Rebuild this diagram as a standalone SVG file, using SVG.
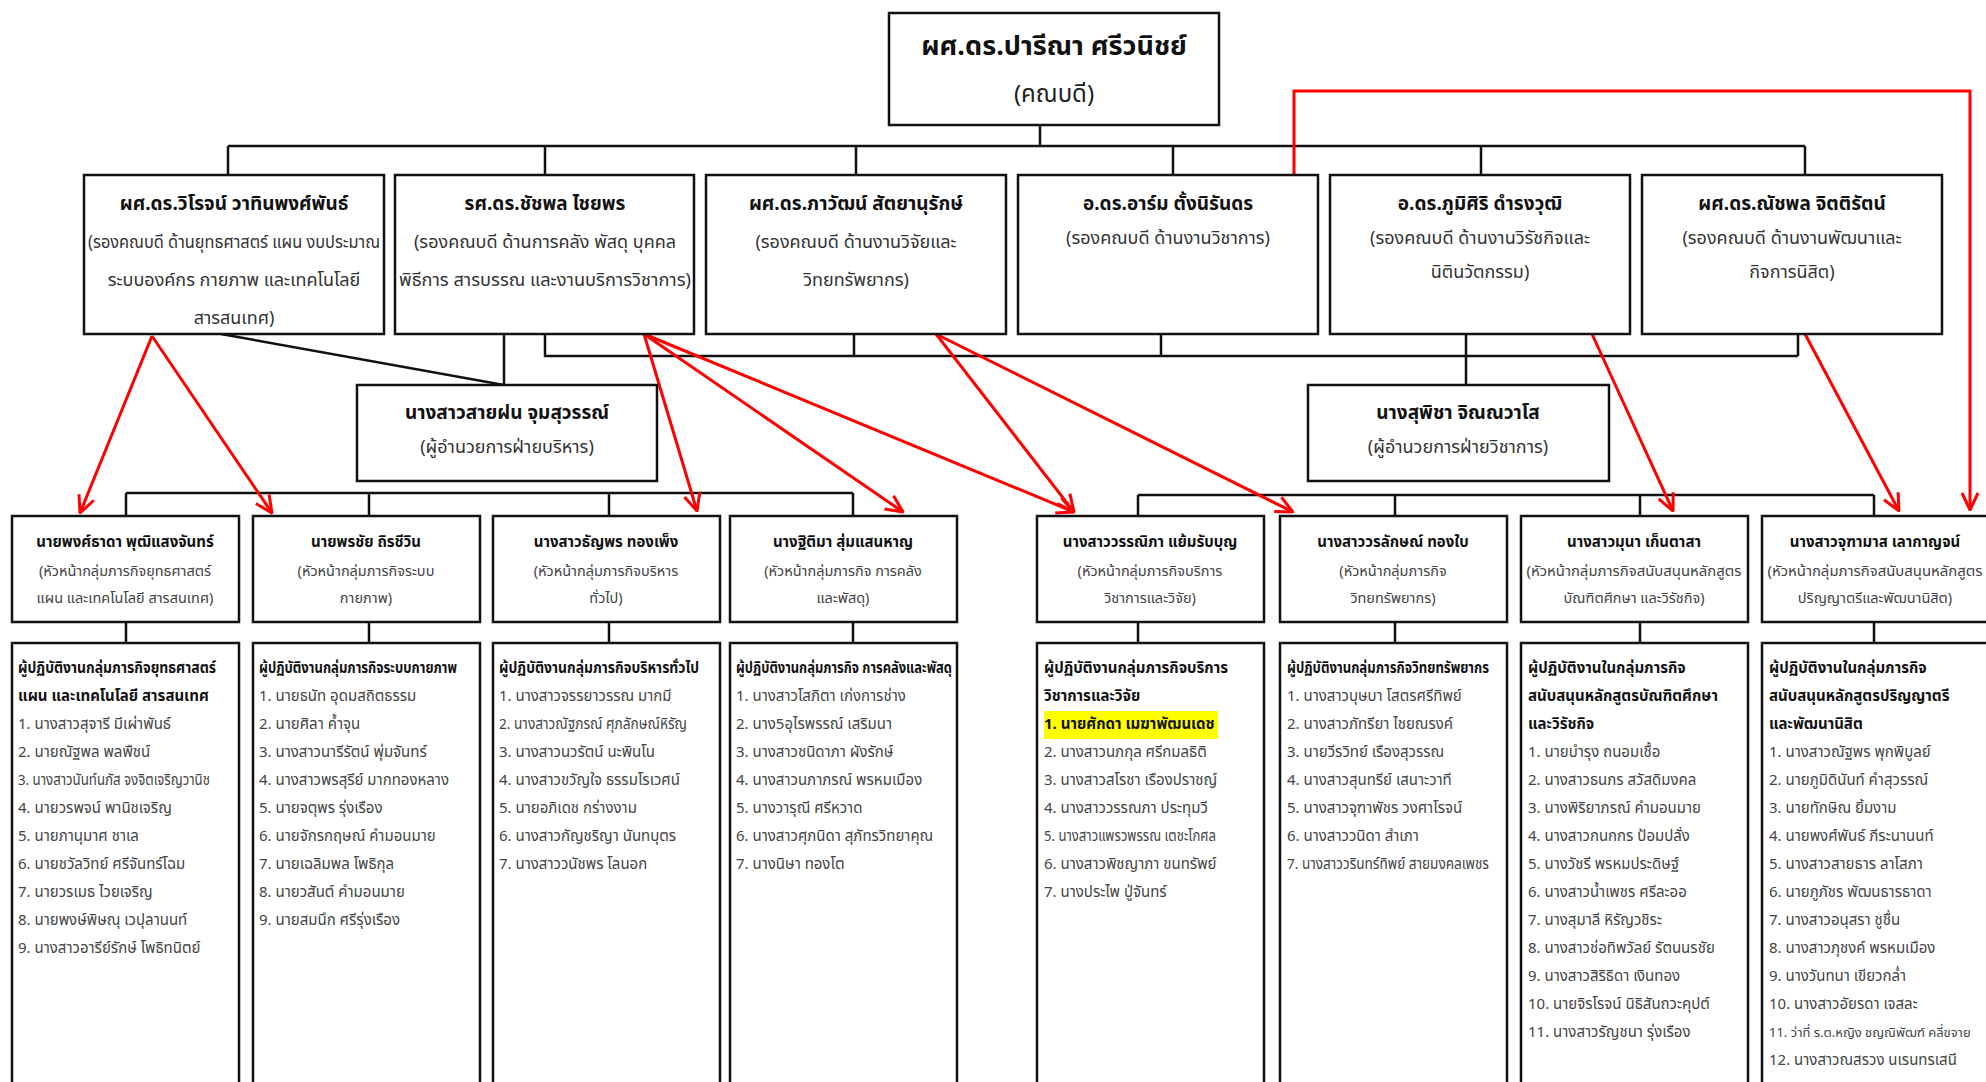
<svg xmlns="http://www.w3.org/2000/svg" width="1986" height="1082" viewBox="0 0 1986 1082">
<style>
text{font-family:Tahoma,"Noto Sans Thai","Noto Sans",sans-serif}
.box{fill:#fff;stroke:#111;stroke-width:2.5}
.ln{fill:none;stroke:#111;stroke-width:2.5}
.rl{fill:none;stroke:#f00;stroke-width:3}
.t1{font-size:27px;font-weight:bold;fill:#111;text-anchor:middle}
.t2{font-size:24px;fill:#222;text-anchor:middle}
.n2{font-size:19px;font-weight:bold;fill:#111;text-anchor:middle}
.d2{font-size:18px;fill:#333;text-anchor:middle}
.n3{font-size:15px;font-weight:bold;fill:#111;text-anchor:middle}
.d3{font-size:14.5px;fill:#444;text-anchor:middle}
.hd{font-size:15px;font-weight:bold;fill:#111}
.it{font-size:15px;fill:#444}
</style>
<defs>
<marker id="ah" viewBox="0 0 20 20" refX="19" refY="10" markerWidth="20" markerHeight="20" markerUnits="userSpaceOnUse" orient="auto">
<path d="M2,2 L19,10 L2,18" fill="none" stroke="#f00" stroke-width="3"/>
</marker>
</defs>
<rect width="1986" height="1082" fill="#fff"/>

<g id="connectors">
<path class="ln" d="M1040,125 V146 M228,146 H1805 M228,146 V175 M545,146 V175 M856,146 V175 M1173,146 V175 M1481,146 V175 M1805,146 V175"/>
<path class="ln" d="M545,334 V356 H1798 M854,334 V356 M1161,334 V356 M1466,334 V385 M1798,334 V356"/>
<path class="ln" d="M504,334 V385 M221,334 L504,385"/>
<path class="ln" d="M126,493 H853 M126,493 V516 M369,493 V516 M609,493 V516 M853,493 V516"/>
<path class="ln" d="M1138,495 H1874 M1138,495 V516 M1395,495 V516 M1640,495 V516 M1874,495 V516"/>
<path class="ln" d="M126,622 V643 M369,622 V643 M609,622 V643 M853,622 V643 M1138,622 V643 M1395,622 V643 M1640,622 V643 M1874,622 V643"/>
<g marker-end="url(#ah)">
<path class="rl" d="M152,336 L80,513"/>
<path class="rl" d="M152,336 L272,513"/>
<path class="rl" d="M644,334 L697,511"/>
<path class="rl" d="M644,334 L903,512"/>
<path class="rl" d="M644,334 L1074,512"/>
<path class="rl" d="M936,334 L1074,512"/>
<path class="rl" d="M936,334 L1293,512"/>
<path class="rl" d="M1592,334 L1673,511"/>
<path class="rl" d="M1805,334 L1899,511"/>
<path class="rl" d="M1294,175 V91 H1970 V510"/>
</g>
</g>

<g id="dean">
<rect class="box" x="889" y="13" width="330" height="112"/>
<text class="t1" x="1054" y="55">ผศ.ดร.ปารีณา ศรีวนิชย์</text>
<text class="t2" x="1054" y="102">(คณบดี)</text>
</g>

<g id="vp1">
<rect class="box" x="84" y="175" width="300" height="159"/>
<text class="n2" x="234" y="210">ผศ.ดร.วิโรจน์ วาทินพงศ์พันธ์</text>
<text class="d2" x="234" y="248" textLength="292" lengthAdjust="spacingAndGlyphs">(รองคณบดี ด้านยุทธศาสตร์ แผน งบประมาณ</text>
<text class="d2" x="234" y="286">ระบบองค์กร กายภาพ และเทคโนโลยี</text>
<text class="d2" x="234" y="324">สารสนเทศ)</text>
</g>
<g id="vp2">
<rect class="box" x="395" y="175" width="299" height="159"/>
<text class="n2" x="545" y="210">รศ.ดร.ชัชพล ไชยพร</text>
<text class="d2" x="545" y="248">(รองคณบดี ด้านการคลัง พัสดุ บุคคล</text>
<text class="d2" x="545" y="286" textLength="292" lengthAdjust="spacingAndGlyphs">พิธีการ สารบรรณ และงานบริการวิชาการ)</text>
</g>
<g id="vp3">
<rect class="box" x="706" y="175" width="300" height="159"/>
<text class="n2" x="856" y="210">ผศ.ดร.ภาวัฒน์ สัตยานุรักษ์</text>
<text class="d2" x="856" y="248">(รองคณบดี ด้านงานวิจัยและ</text>
<text class="d2" x="856" y="286">วิทยทรัพยากร)</text>
</g>
<g id="vp4">
<rect class="box" x="1018" y="175" width="300" height="159"/>
<text class="n2" x="1168" y="210">อ.ดร.อาร์ม ตั้งนิรันดร</text>
<text class="d2" x="1168" y="244">(รองคณบดี ด้านงานวิชาการ)</text>
</g>
<g id="vp5">
<rect class="box" x="1330" y="175" width="300" height="159"/>
<text class="n2" x="1480" y="210">อ.ดร.ภูมิศิริ ดำรงวุฒิ</text>
<text class="d2" x="1480" y="244">(รองคณบดี ด้านงานวิรัชกิจและ</text>
<text class="d2" x="1480" y="278">นิตินวัตกรรม)</text>
</g>
<g id="vp6">
<rect class="box" x="1642" y="175" width="300" height="159"/>
<text class="n2" x="1792" y="210">ผศ.ดร.ณัชพล จิตติรัตน์</text>
<text class="d2" x="1792" y="244">(รองคณบดี ด้านงานพัฒนาและ</text>
<text class="d2" x="1792" y="278">กิจการนิสิต)</text>
</g>

<g id="dir1">
<rect class="box" x="357" y="385" width="300" height="96"/>
<text class="n2" x="507" y="419">นางสาวสายฝน จุมสุวรรณ์</text>
<text class="d2" x="507" y="453">(ผู้อำนวยการฝ่ายบริหาร)</text>
</g>
<g id="dir2">
<rect class="box" x="1308" y="385" width="301" height="96"/>
<text class="n2" x="1458" y="419">นางสุพิชา จิณณวาโส</text>
<text class="d2" x="1458" y="453">(ผู้อำนวยการฝ่ายวิชาการ)</text>
</g>

<g id="headA">
<rect class="box" x="12" y="516" width="227" height="106"/>
<text class="n3" x="125" y="547">นายพงศ์ธาดา พุฒิแสงจันทร์</text>
<text class="d3" x="125" y="576">(หัวหน้ากลุ่มภารกิจยุทธศาสตร์</text>
<text class="d3" x="125" y="603">แผน และเทคโนโลยี สารสนเทศ)</text>
</g>
<g id="headB">
<rect class="box" x="253" y="516" width="227" height="106"/>
<text class="n3" x="366" y="547">นายพรชัย ถิรชีวิน</text>
<text class="d3" x="366" y="576">(หัวหน้ากลุ่มภารกิจระบบ</text>
<text class="d3" x="366" y="603">กายภาพ)</text>
</g>
<g id="headC">
<rect class="box" x="493" y="516" width="227" height="106"/>
<text class="n3" x="606" y="547">นางสาวธัญพร ทองเพ็ง</text>
<text class="d3" x="606" y="576">(หัวหน้ากลุ่มภารกิจบริหาร</text>
<text class="d3" x="606" y="603">ทั่วไป)</text>
</g>
<g id="headD">
<rect class="box" x="730" y="516" width="227" height="106"/>
<text class="n3" x="843" y="547">นางฐิติมา สุ่มแสนหาญ</text>
<text class="d3" x="843" y="576">(หัวหน้ากลุ่มภารกิจ การคลัง</text>
<text class="d3" x="843" y="603">และพัสดุ)</text>
</g>
<g id="headE">
<rect class="box" x="1037" y="516" width="227" height="106"/>
<text class="n3" x="1150" y="547">นางสาววรรณิภา แย้มรับบุญ</text>
<text class="d3" x="1150" y="576">(หัวหน้ากลุ่มภารกิจบริการ</text>
<text class="d3" x="1150" y="603">วิชาการและวิจัย)</text>
</g>
<g id="headF">
<rect class="box" x="1280" y="516" width="227" height="106"/>
<text class="n3" x="1393" y="547">นางสาววรลักษณ์ ทองใบ</text>
<text class="d3" x="1393" y="576">(หัวหน้ากลุ่มภารกิจ</text>
<text class="d3" x="1393" y="603">วิทยทรัพยากร)</text>
</g>
<g id="headG">
<rect class="box" x="1521" y="516" width="227" height="106"/>
<text class="n3" x="1634" y="547">นางสาวมุนา เก็นตาสา</text>
<text class="d3" x="1634" y="576" textLength="215" lengthAdjust="spacingAndGlyphs">(หัวหน้ากลุ่มภารกิจสนับสนุนหลักสูตร</text>
<text class="d3" x="1634" y="603">บัณฑิตศึกษา และวิรัชกิจ)</text>
</g>
<g id="headH">
<rect class="box" x="1762" y="516" width="232" height="106"/>
<text class="n3" x="1875" y="547">นางสาวจุฑามาส เลากาญจน์</text>
<text class="d3" x="1875" y="576" textLength="215" lengthAdjust="spacingAndGlyphs">(หัวหน้ากลุ่มภารกิจสนับสนุนหลักสูตร</text>
<text class="d3" x="1875" y="603">ปริญญาตรีและพัฒนานิสิต)</text>
</g>

<g id="listA">
<rect class="box" x="12" y="643" width="227" height="450"/>
<text class="hd" x="18" y="673" textLength="198" lengthAdjust="spacingAndGlyphs">ผู้ปฏิบัติงานกลุ่มภารกิจยุทธศาสตร์</text>
<text class="hd" x="18" y="701">แผน และเทคโนโลยี สารสนเทศ</text>
<text class="it" x="18" y="729">1. นางสาวสุจารี มีเผ่าพันธ์</text>
<text class="it" x="18" y="757">2. นายณัฐพล พลพืชน์</text>
<text class="it" x="18" y="785" textLength="192" lengthAdjust="spacingAndGlyphs">3. นางสาวนันท์นภัส จงจิตเจริญวานิช</text>
<text class="it" x="18" y="813">4. นายวรพจน์ พานิชเจริญ</text>
<text class="it" x="18" y="841">5. นายภานุมาศ ชาเล</text>
<text class="it" x="18" y="869">6. นายชวัลวิทย์ ศรีจันทร์โฉม</text>
<text class="it" x="18" y="897">7. นายวรเมธ ไวยเจริญ</text>
<text class="it" x="18" y="925">8. นายพงษ์พิษณุ เวปุลานนท์</text>
<text class="it" x="18" y="953">9. นางสาวอารีย์รักษ์ โพธิทนิตย์</text>
</g>
<g id="listB">
<rect class="box" x="253" y="643" width="227" height="450"/>
<text class="hd" x="259" y="673" textLength="198" lengthAdjust="spacingAndGlyphs">ผู้ปฏิบัติงานกลุ่มภารกิจระบบกายภาพ</text>
<text class="it" x="259" y="701">1. นายธนัท อุดมสถิตธรรม</text>
<text class="it" x="259" y="729">2. นายศิลา ค้ำจุน</text>
<text class="it" x="259" y="757">3. นางสาวนารีรัตน์ พุ่มจันทร์</text>
<text class="it" x="259" y="785">4. นางสาวพรสุรีย์ มากทองหลาง</text>
<text class="it" x="259" y="813">5. นายจตุพร รุ่งเรือง</text>
<text class="it" x="259" y="841">6. นายจักรกฤษณ์ คำมอนมาย</text>
<text class="it" x="259" y="869">7. นายเฉลิมพล โพธิกุล</text>
<text class="it" x="259" y="897">8. นายวสันต์ คำมอนมาย</text>
<text class="it" x="259" y="925">9. นายสมนึก ศรีรุ่งเรือง</text>
</g>
<g id="listC">
<rect class="box" x="493" y="643" width="227" height="450"/>
<text class="hd" x="499" y="673" textLength="200" lengthAdjust="spacingAndGlyphs">ผู้ปฏิบัติงานกลุ่มภารกิจบริหารทั่วไป</text>
<text class="it" x="499" y="701">1. นางสาวจรรยาวรรณ มากมี</text>
<text class="it" x="499" y="729" textLength="188" lengthAdjust="spacingAndGlyphs">2. นางสาวณัฐภรณ์ ศุภลักษณ์หิรัญ</text>
<text class="it" x="499" y="757">3. นางสาวนวรัตน์ นะพินโน</text>
<text class="it" x="499" y="785">4. นางสาวขวัญใจ ธรรมโรเวศน์</text>
<text class="it" x="499" y="813">5. นายอภิเดช กร่างงาม</text>
<text class="it" x="499" y="841">6. นางสาวกัญชริญา นันทบุตร</text>
<text class="it" x="499" y="869">7. นางสาววนัชพร โลนอก</text>
</g>
<g id="listD">
<rect class="box" x="730" y="643" width="227" height="450"/>
<text class="hd" x="736" y="673" textLength="216" lengthAdjust="spacingAndGlyphs">ผู้ปฏิบัติงานกลุ่มภารกิจ การคลังและพัสดุ</text>
<text class="it" x="736" y="701">1. นางสาวโสภิตา เก่งการช่าง</text>
<text class="it" x="736" y="729">2. นาง5อุไรพรรณ์ เสริมนา</text>
<text class="it" x="736" y="757">3. นางสาวชนิดาภา ผังรักษ์</text>
<text class="it" x="736" y="785">4. นางสาวนภาภรณ์ พรหมเมือง</text>
<text class="it" x="736" y="813">5. นางวารุณี ศรีหวาด</text>
<text class="it" x="736" y="841">6. นางสาวศุภนิดา สุภัทรวิทยาคุณ</text>
<text class="it" x="736" y="869">7. นางนิษา ทองโต</text>
</g>
<g id="listE">
<rect class="box" x="1037" y="643" width="227" height="450"/>
<text class="hd" x="1044" y="673">ผู้ปฏิบัติงานกลุ่มภารกิจบริการ</text>
<text class="hd" x="1044" y="701">วิชาการและวิจัย</text>
<rect x="1044" y="711" width="174" height="28" fill="#ffff00"/>
<text class="hd" x="1044" y="729">1. นายศักดา เมฆาพัฒนเดช</text>
<text class="it" x="1044" y="757">2. นางสาวนภกุล ศรีกมลธิติ</text>
<text class="it" x="1044" y="785">3. นางสาวสโรชา เรืองปราชญ์</text>
<text class="it" x="1044" y="813">4. นางสาววรรณภา ประทุมวี</text>
<text class="it" x="1044" y="841" textLength="172" lengthAdjust="spacingAndGlyphs">5. นางสาวแพรวพรรณ เตชะโกศล</text>
<text class="it" x="1044" y="869">6. นางสาวพิชญาภา ขนทรัพย์</text>
<text class="it" x="1044" y="897">7. นางประไพ ปู่จันทร์</text>
</g>
<g id="listF">
<rect class="box" x="1280" y="643" width="227" height="450"/>
<text class="hd" x="1287" y="673" textLength="202" lengthAdjust="spacingAndGlyphs">ผู้ปฏิบัติงานกลุ่มภารกิจวิทยทรัพยากร</text>
<text class="it" x="1287" y="701">1. นางสาวบุษบา โสตรศรีทิพย์</text>
<text class="it" x="1287" y="729">2. นางสาวภัทรียา ไชยณรงค์</text>
<text class="it" x="1287" y="757">3. นายวีรวิทย์ เรืองสุวรรณ</text>
<text class="it" x="1287" y="785">4. นางสาวสุนทรีย์ เสนาะวาที</text>
<text class="it" x="1287" y="813">5. นางสาวจุฑาพัชร วงศาโรจน์</text>
<text class="it" x="1287" y="841">6. นางสาววนิดา สำเภา</text>
<text class="it" x="1287" y="869" textLength="202" lengthAdjust="spacingAndGlyphs">7. นางสาววรินทร์ทิพย์ สายมงคลเพชร</text>
</g>
<g id="listG">
<rect class="box" x="1521" y="643" width="227" height="450"/>
<text class="hd" x="1528" y="673">ผู้ปฏิบัติงานในกลุ่มภารกิจ</text>
<text class="hd" x="1528" y="701">สนับสนุนหลักสูตรบัณฑิตศึกษา</text>
<text class="hd" x="1528" y="729">และวิรัชกิจ</text>
<text class="it" x="1528" y="757">1. นายบำรุง ถนอมเชื้อ</text>
<text class="it" x="1528" y="785">2. นางสาวธนภร สวัสดิมงคล</text>
<text class="it" x="1528" y="813">3. นางพิริยาภรณ์ คำมอนมาย</text>
<text class="it" x="1528" y="841">4. นางสาวกนกกร ป้อมปลั่ง</text>
<text class="it" x="1528" y="869">5. นางวัชรี พรหมประดิษฐ์</text>
<text class="it" x="1528" y="897">6. นางสาวน้ำเพชร ศรีละออ</text>
<text class="it" x="1528" y="925">7. นางสุมาลี หิรัญวชิระ</text>
<text class="it" x="1528" y="953">8. นางสาวช่อทิพวัลย์ รัตนนรชัย</text>
<text class="it" x="1528" y="981">9. นางสาวสิริธิดา เงินทอง</text>
<text class="it" x="1528" y="1009">10. นายจิรโรจน์ นิธิสันถวะคุปต์</text>
<text class="it" x="1528" y="1037">11. นางสาวรัญชนา รุ่งเรือง</text>
</g>
<g id="listH">
<rect class="box" x="1762" y="643" width="232" height="450"/>
<text class="hd" x="1769" y="673">ผู้ปฏิบัติงานในกลุ่มภารกิจ</text>
<text class="hd" x="1769" y="701">สนับสนุนหลักสูตรปริญญาตรี</text>
<text class="hd" x="1769" y="729">และพัฒนานิสิต</text>
<text class="it" x="1769" y="757">1. นางสาวณัฐพร พุกพิบูลย์</text>
<text class="it" x="1769" y="785">2. นายภูมิดินันท์ คำสุวรรณ์</text>
<text class="it" x="1769" y="813">3. นายทักษิณ ยิ้มงาม</text>
<text class="it" x="1769" y="841">4. นายพงศ์พันธ์ ภีระนานนท์</text>
<text class="it" x="1769" y="869">5. นางสาวสายธาร ลาโสภา</text>
<text class="it" x="1769" y="897">6. นายภูภัชร พัฒนธารธาดา</text>
<text class="it" x="1769" y="925">7. นางสาวอนุสรา ชูชื่น</text>
<text class="it" x="1769" y="953">8. นางสาวภุชงค์ พรหมเมือง</text>
<text class="it" x="1769" y="981">9. นางวันทนา เขียวกล่ำ</text>
<text class="it" x="1769" y="1009">10. นางสาวอัยรดา เจสละ</text>
<text class="it" x="1769" y="1037" style="font-size:13px">11. ว่าที่ ร.ต.หญิง ชญณิพัฒฑ์ คลี่ขจาย</text>
<text class="it" x="1769" y="1065">12. นางสาวณสรวง นเรนทรเสนี</text>
</g>
</svg>
